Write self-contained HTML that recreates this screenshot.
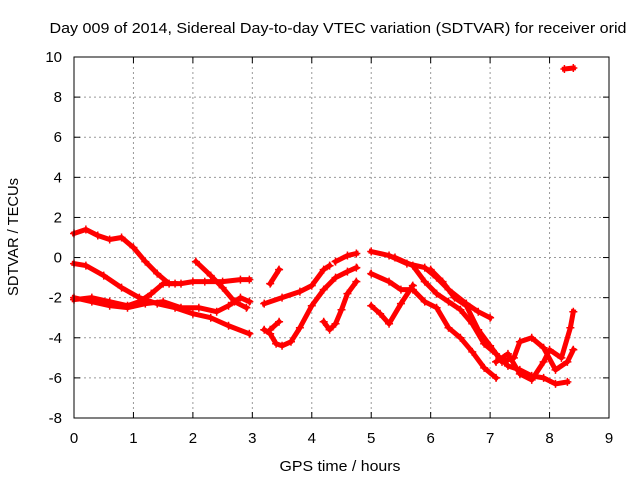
<!DOCTYPE html>
<html><head><meta charset="utf-8"><style>
body{margin:0;background:#fff}
svg{display:block;font-family:"Liberation Sans",sans-serif}
</style></head><body>
<svg id="c" width="640" height="480">
<text x="338" y="33" text-anchor="middle" font-size="15" textLength="577" lengthAdjust="spacingAndGlyphs">Day 009 of 2014, Sidereal Day-to-day VTEC variation (SDTVAR) for receiver orid</text>
<text x="340" y="471" text-anchor="middle" font-size="15" textLength="121" lengthAdjust="spacingAndGlyphs">GPS time / hours</text>
<text x="18" y="237" text-anchor="middle" font-size="15" textLength="118" lengthAdjust="spacingAndGlyphs" transform="rotate(-90 18 237)">SDTVAR / TECUs</text>
<g id="grid"></g><g id="data"></g>
<rect x="74" y="57" width="535" height="361" fill="none" stroke="#000"/>
</svg>
<script>
const xTicks=[0,1,2,3,4,5,6,7,8,9];
const yTicks=[-8,-6,-4,-2,0,2,4,6,8,10];
const tracks=[
[[0,1.2],[0.2,1.4],[0.4,1.1],[0.6,0.9],[0.8,1.0],[1.0,0.5],[1.2,-0.2],[1.4,-0.8],[1.6,-1.3],[1.8,-1.3],[2.0,-1.2],[2.2,-1.2],[2.5,-1.2],[2.8,-1.1],[2.95,-1.1]],
[[0,-0.3],[0.2,-0.4],[0.5,-0.9],[0.8,-1.5],[1.1,-2.0],[1.4,-2.3],[1.7,-2.5],[2.0,-2.8],[2.3,-3.0],[2.6,-3.4],[2.95,-3.8]],
[[0,-2.0],[0.3,-2.2],[0.6,-2.4],[0.9,-2.5],[1.2,-2.3],[1.5,-2.2],[1.8,-2.5],[2.1,-2.5],[2.4,-2.7],[2.6,-2.4],[2.8,-2.0],[2.95,-2.2]],
[[0,-2.1],[0.3,-2.0],[0.6,-2.2],[0.9,-2.4],[1.1,-2.2],[1.3,-1.8],[1.5,-1.3],[1.7,-1.3]],
[[2.05,-0.2],[2.3,-0.9],[2.5,-1.5],[2.7,-2.2],[2.9,-2.5]],
[[3.2,-2.3],[3.5,-2.0],[3.8,-1.7],[4.0,-1.4],[4.2,-0.6],[4.3,-0.4]],
[[3.2,-3.6],[3.3,-3.8],[3.4,-4.3],[3.5,-4.4],[3.65,-4.2],[3.8,-3.5],[4.0,-2.4],[4.2,-1.6],[4.4,-1.0],[4.6,-0.7],[4.75,-0.5]],
[[3.3,-1.3],[3.45,-0.6]],
[[3.3,-3.6],[3.45,-3.2]],
[[4.2,-3.2],[4.3,-3.6],[4.4,-3.3],[4.5,-2.6],[4.6,-1.8],[4.75,-1.2]],
[[4.4,-0.2],[4.6,0.1],[4.75,0.2]],
[[5.0,0.3],[5.3,0.1],[5.6,-0.3],[5.9,-0.5],[6.1,-1.0],[6.3,-1.6],[6.6,-2.3],[6.8,-2.7],[7.0,-3.0]],
[[5.0,-0.8],[5.3,-1.2],[5.5,-1.6],[5.7,-1.6],[5.9,-2.2],[6.1,-2.5],[6.3,-3.5],[6.5,-4.0],[6.7,-4.7],[6.9,-5.5],[7.1,-6.0]],
[[5.0,-2.4],[5.15,-2.8],[5.3,-3.3],[5.5,-2.3],[5.7,-1.4]],
[[5.4,0],[5.7,-0.4],[5.9,-1.2],[6.1,-1.8],[6.3,-2.2],[6.5,-2.6],[6.7,-3.3],[6.9,-4.3],[7.1,-4.8],[7.3,-5.4],[7.5,-5.6],[7.7,-5.9],[7.9,-6.0],[8.1,-6.3],[8.3,-6.2]],
[[6.0,-0.6],[6.2,-1.2],[6.4,-2.0],[6.6,-2.4],[6.8,-3.6],[7.0,-4.4],[7.2,-5.2],[7.4,-5.0],[7.5,-4.2],[7.7,-4.0],[7.9,-4.5],[8.1,-5.6],[8.3,-5.2],[8.4,-4.6]],
[[7.1,-5.2],[7.3,-4.8],[7.5,-5.8],[7.7,-6.1],[7.9,-5.2],[8.0,-4.6],[8.2,-5.0],[8.35,-3.5],[8.4,-2.7]],
[[8.25,9.4],[8.4,9.45]]
];
const NS='http://www.w3.org/2000/svg';
const X=v=>74+v*(535/9), Y=v=>418-(v+8)*(361/18);
const g=document.getElementById('grid'), d=document.getElementById('data');
function mk(t,a,p){const e=document.createElementNS(NS,t);for(const k in a)e.setAttribute(k,a[k]);p.appendChild(e);return e;}
xTicks.forEach(v=>{
 if(v>0&&v<9){const l=mk('line',{x1:X(v),x2:X(v),y1:57,y2:418,stroke:'#999','stroke-dasharray':'2,3'},g);
 
 }
 mk('line',{x1:X(v),x2:X(v),y1:418,y2:412,stroke:'#000'},g);
 mk('line',{x1:X(v),x2:X(v),y1:57,y2:63,stroke:'#000'},g);
 const t=mk('text',{x:X(v),y:443,'text-anchor':'middle','font-size':15},g);t.textContent=v;
 
 
});
yTicks.forEach(v=>{
 if(v>-8&&v<10){const l=mk('line',{x1:74,x2:609,y1:Y(v),y2:Y(v),stroke:'#999','stroke-dasharray':'2,3'},g);
 
 }
 mk('line',{x1:74,x2:80,y1:Y(v),y2:Y(v),stroke:'#000'},g);
 mk('line',{x1:609,x2:603,y1:Y(v),y2:Y(v),stroke:'#000'},g);
 const t=mk('text',{x:62,y:Y(v)+5,'text-anchor':'end','font-size':15},g);t.textContent=v;
 
 
});
tracks.forEach((tr,i)=>{
 const pl=mk('polyline',{points:tr.map(p=>X(p[0])+','+Y(p[1])).join(' '),fill:'none',stroke:'#f00','stroke-width':5,'stroke-linejoin':'round','stroke-linecap':'square'},d);
 
 
 tr.forEach(p=>{const x=X(p[0]),y=Y(p[1]);
  mk('path',{d:`M${x-4},${y}H${x+4}M${x},${y-4}V${y+4}`,stroke:'#f00','stroke-width':1.5},d);});
});
</script>
</body></html>
